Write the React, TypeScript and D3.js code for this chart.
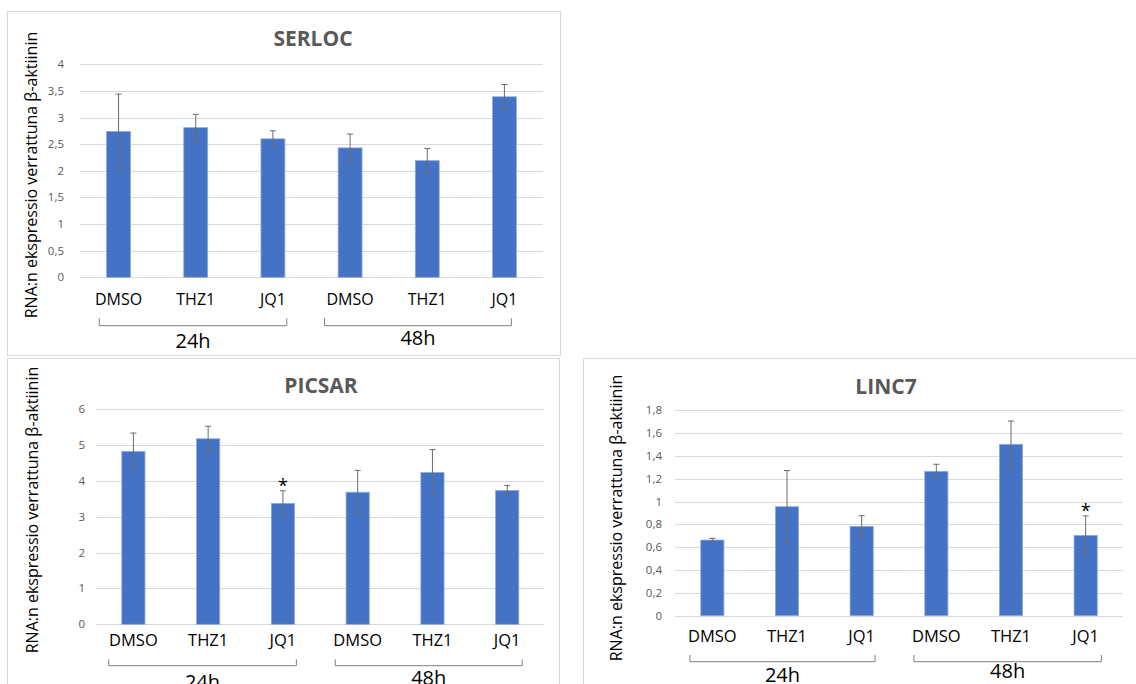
import React from "react";
import * as d3 from "d3";

// ---------- data ----------
const categories = ["DMSO", "THZ1", "JQ1", "DMSO", "THZ1", "JQ1"];
const groups = ["24h", "48h"];
const yAxisTitle = "RNA:n ekspressio verrattuna β-aktiinin";

const serlocValues = [2.74, 2.81, 2.6, 2.43, 2.19, 3.39];
const serlocErrors = [0.7, 0.25, 0.15, 0.26, 0.23, 0.23];
const serlocSignificant: number[] = [];

const picsarValues = [4.82, 5.17, 3.37, 3.68, 4.23, 3.73];
const picsarErrors = [0.51, 0.35, 0.35, 0.61, 0.64, 0.14];
const picsarSignificant = [2];

const linc7Values = [0.663, 0.955, 0.783, 1.265, 1.502, 0.704];
const linc7Errors = [0.015, 0.317, 0.094, 0.062, 0.204, 0.171];
const linc7Significant = [5];

const serlocTicks = [0, 0.5, 1, 1.5, 2, 2.5, 3, 3.5, 4];
const picsarTicks = [0, 1, 2, 3, 4, 5, 6];
const linc7Ticks = [0, 0.2, 0.4, 0.6, 0.8, 1, 1.2, 1.4, 1.6, 1.8];

// ---------- layout ----------
type Layout = {
  box: { x: number; y: number; w: number; h: number };
  x0: number; x1: number; yTop: number; yBottom: number;
  labelRight: number;
  title: { x: number; y: number };
  catBaseline: number; catFont: number;
  bracketY: number; bracketTick: number;
  groupBaselines: number[];
  yLabel: { x: number; y: number };
  bracketOffsets: number[][];
};

const FONT = "'Open Sans', 'Liberation Sans', sans-serif";
const BAR = "#4472C4";

const locale = d3.formatLocale({ decimal: ",", thousands: " ", grouping: [3], currency: ["", ""] });
const fmt = (v: number) => locale.format("~g")(+v.toFixed(2));

function Panel(props: {
  name: string; values: number[]; errors: number[]; significant: number[];
  ticks: number[]; layout: Layout;
}) {
  const { name, values, errors, significant, ticks, layout: L } = props;
  const idx = categories.map((_, i) => String(i));
  const x = d3.scaleBand<string>().domain(idx).range([L.x0, L.x1]).paddingInner(0.69).paddingOuter(0.345);
  const y = d3.scaleLinear().domain([0, ticks[ticks.length - 1]]).range([L.yBottom, L.yTop]);
  const step = x.step();
  const bw = x.bandwidth();
  const cx = (i: number) => (x(String(i)) as number) + bw / 2;

  return (
    <g>
      <rect x={L.box.x + 0.5} y={L.box.y + 0.5} width={L.box.w} height={L.box.h} fill="#fff" stroke="#d9d9d9" strokeWidth={1} />
      <text x={L.title.x} y={L.title.y} textAnchor="middle" fontFamily={FONT} fontWeight="bold" fontSize={21} fill="#595959">{name}</text>
      {ticks.map((t) => (
        <g key={t}>
          <line x1={L.x0} x2={L.x1} y1={Math.round(y(t)) + 0.5} y2={Math.round(y(t)) + 0.5} stroke="#d9d9d9" strokeWidth={1} />
          <text x={L.labelRight} y={y(t)} dy="0.35em" textAnchor="end" fontFamily={FONT} fontSize={11.5} fill="#595959">{fmt(t)}</text>
        </g>
      ))}
      {values.map((v, i) => (
        <rect key={i} x={x(String(i))} y={y(v)} width={bw} height={y(0) - y(v)} fill={BAR} stroke="#8eaadb" strokeWidth={0.8} />
      ))}
      {values.map((v, i) => {
        const c = cx(i);
        const top = y(v + errors[i]);
        const bot = y(v - errors[i]);
        return (
          <g key={i} stroke="#6b6b6b" strokeWidth={1}>
            <line x1={c} x2={c} y1={top} y2={bot} />
            <line x1={c - 3} x2={c + 3} y1={top} y2={top} />
            <line x1={c - 3} x2={c + 3} y1={bot} y2={bot} />
          </g>
        );
      })}
      {significant.map((i) => (
        <text key={i} x={cx(i)} y={y(values[i] + errors[i]) + 1} textAnchor="middle" fontFamily={FONT} fontSize={18} fill="#000">*</text>
      ))}
      {categories.map((c, i) => (
        <text key={i} x={cx(i)} y={L.catBaseline} textAnchor="middle" fontFamily={FONT} fontSize={L.catFont} fill="#000">{c}</text>
      ))}
      {groups.map((g, gi) => {
        const a = cx(gi * 3) + L.bracketOffsets[gi][0] * step;
        const b = cx(gi * 3 + 2) + L.bracketOffsets[gi][1] * step;
        const by = L.bracketY;
        return (
          <g key={g}>
            <path d={`M${a},${by - L.bracketTick}V${by}H${b}V${by - L.bracketTick}`} fill="none" stroke="#7f7f7f" strokeWidth={1} />
            <text x={(a + b) / 2} y={L.groupBaselines[gi]} textAnchor="middle" fontFamily={FONT} fontSize={20} fill="#000">{g}</text>
          </g>
        );
      })}
      <text transform={`translate(${L.yLabel.x},${L.yLabel.y}) rotate(-90)`} dy="0.35em" textAnchor="middle" fontFamily={FONT} fontSize={16} fill="#000">{yAxisTitle}</text>
    </g>
  );
}

const serlocLayout: Layout = {
  box: { x: 7, y: 11, w: 553, h: 344 },
  x0: 80, x1: 543, yTop: 64.3, yBottom: 277.3, labelRight: 64,
  title: { x: 313, y: 46 }, catBaseline: 305, catFont: 16,
  bracketY: 325.7, bracketTick: 7.4, groupBaselines: [348, 345],
  yLabel: { x: 31.5, y: 175 }, bracketOffsets: [[-0.25, 0.18], [-0.33, 0.09]],
};
const picsarLayout: Layout = {
  box: { x: 7, y: 358, w: 552, h: 340 },
  x0: 96, x1: 544.6, yTop: 409, yBottom: 624.3, labelRight: 85,
  title: { x: 321, y: 393.3 }, catBaseline: 646, catFont: 16.5,
  bracketY: 665.7, bracketTick: 6.4, groupBaselines: [689, 685],
  yLabel: { x: 32.5, y: 510 }, bracketOffsets: [[-0.33, 0.18], [-0.3, 0.2]],
};
const linc7Layout: Layout = {
  box: { x: 583, y: 358, w: 560, h: 340 },
  x0: 675, x1: 1123, yTop: 410.3, yBottom: 615.7, labelRight: 662,
  title: { x: 886, y: 394.3 }, catBaseline: 642, catFont: 16.5,
  bracketY: 661.7, bracketTick: 6.7, groupBaselines: [682, 678],
  yLabel: { x: 616.5, y: 518 }, bracketOffsets: [[-0.3, 0.18], [-0.3, 0.21]],
};

export default function App() {
  return (
    <svg width={1136} height={684} style={{ position: "absolute", left: 0, top: 0, background: "#fff" }}>
      <rect width={1136} height={684} fill="#fff" />
      <Panel name="SERLOC" values={serlocValues} errors={serlocErrors} significant={serlocSignificant} ticks={serlocTicks} layout={serlocLayout} />
      <Panel name="PICSAR" values={picsarValues} errors={picsarErrors} significant={picsarSignificant} ticks={picsarTicks} layout={picsarLayout} />
      <Panel name="LINC7" values={linc7Values} errors={linc7Errors} significant={linc7Significant} ticks={linc7Ticks} layout={linc7Layout} />
    </svg>
  );
}
